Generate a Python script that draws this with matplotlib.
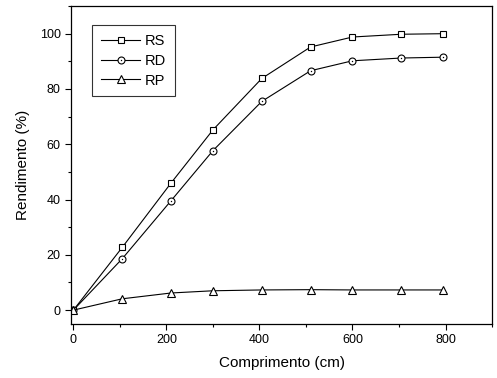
import matplotlib
matplotlib.use("Agg")
import matplotlib.pyplot as plt
from matplotlib.ticker import MultipleLocator

plt.rcParams['font.family'] = ['Liberation Sans', 'DejaVu Sans']

comprimento = [0, 105, 210, 300, 405, 510, 600, 705, 795]
rs = [0, 22.7, 46.0, 65.2, 83.8, 95.2, 98.8, 99.8, 100.0]
rd = [0, 18.6, 39.6, 57.7, 75.5, 86.6, 90.2, 91.2, 91.5]
rp = [0, 4.1, 6.2, 7.0, 7.3, 7.4, 7.3, 7.3, 7.3]

fig = plt.figure(figsize=(4.97, 3.78), dpi=100)
ax = fig.add_axes([0.143, 0.143, 0.847, 0.841])

lw = 0.8
h_rs, = ax.plot(comprimento, rs, color='black', lw=lw, marker='s', ms=4.5,
                mfc='white', mec='black', mew=0.8)
h_rd, = ax.plot(comprimento, rd, color='black', lw=lw, marker='o', ms=5,
                mfc='white', mec='black', mew=0.8)
h_rd_dot, = ax.plot(comprimento, rd, ls='none', marker='o', ms=1.0,
                    mfc='black', mec='black', mew=0)
h_rp, = ax.plot(comprimento, rp, color='black', lw=lw, marker='^', ms=6,
                mfc='white', mec='black', mew=0.8)

ax.set_xlim(-5, 900)
ax.set_ylim(-5, 110)
ax.xaxis.set_major_locator(MultipleLocator(200))
ax.xaxis.set_minor_locator(MultipleLocator(100))
ax.yaxis.set_major_locator(MultipleLocator(20))
ax.yaxis.set_minor_locator(MultipleLocator(10))
ax.tick_params(which='both', direction='out', top=False, right=False,
               labelsize=9, width=0.8)
ax.tick_params(which='major', length=4)
ax.tick_params(which='minor', length=2.5)
for s in ax.spines.values():
    s.set_linewidth(0.9)

ax.set_xlabel('Comprimento (cm)', fontsize=11, labelpad=7)
ax.set_ylabel('Rendimento (%)', fontsize=11, labelpad=7)

leg = ax.legend([h_rs, (h_rd, h_rd_dot), h_rp], ['RS', 'RD', 'RP'],
                loc='upper left', bbox_to_anchor=(0.05, 0.94), borderaxespad=0,
                fontsize=10.5, frameon=True, fancybox=False, handlelength=2.7,
                handletextpad=0.3, borderpad=0.6, labelspacing=0.4)
leg.get_frame().set_edgecolor('black')
leg.get_frame().set_linewidth(0.8)

fig.savefig('out.png', dpi=100)
